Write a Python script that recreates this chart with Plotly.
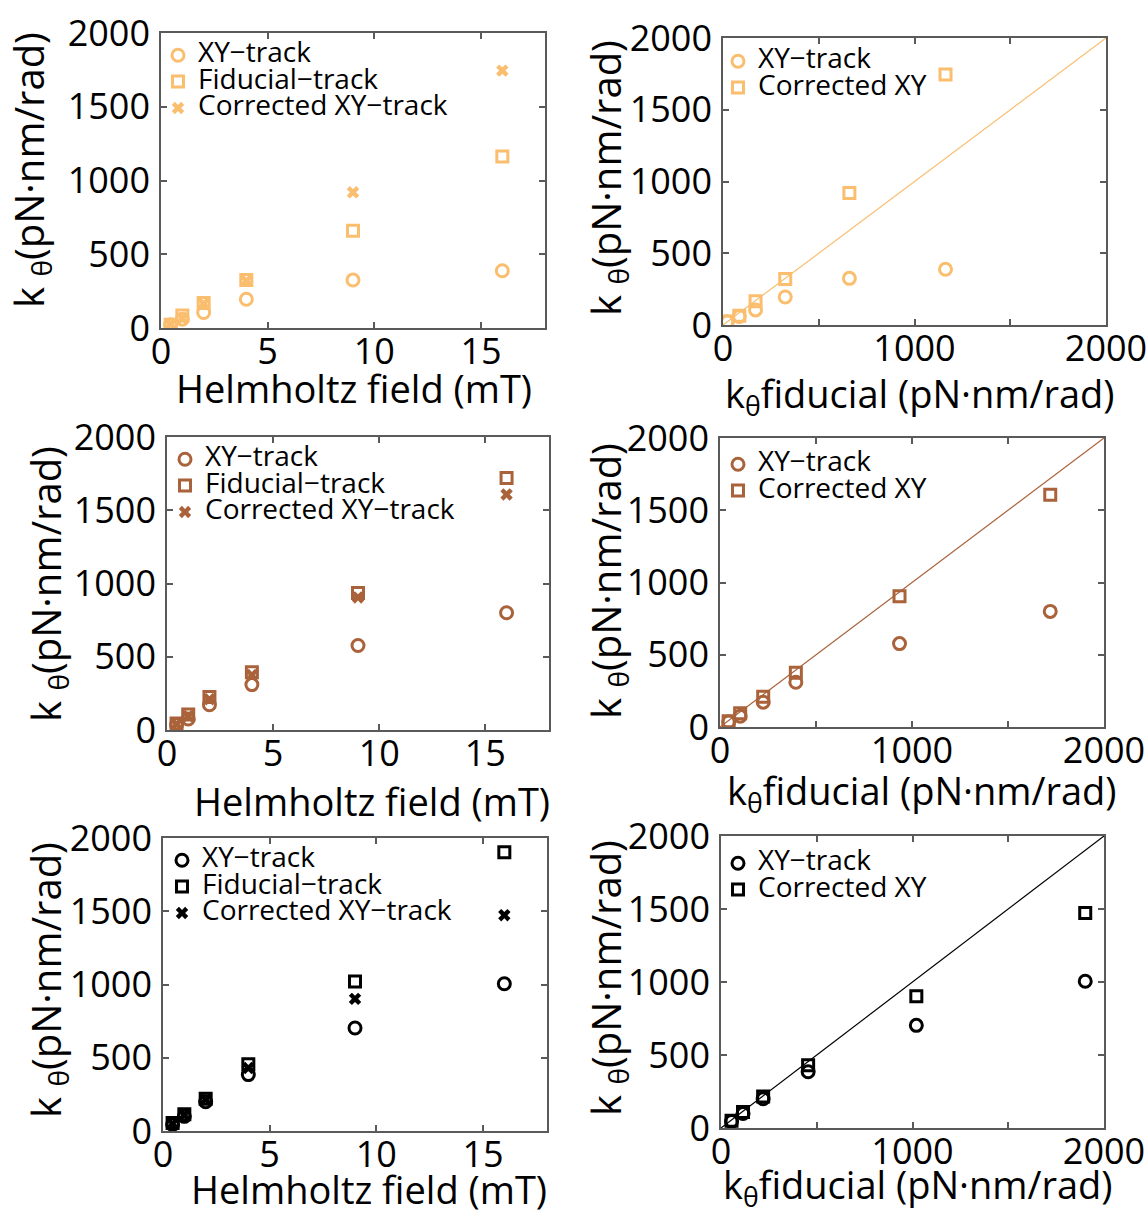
import plotly.graph_objects as go

# Helmholtz field strength (mT)
field = [0.45, 1.0, 2.0, 4.0, 9.0, 16.0]

# Bead 1 (light orange) stiffness, pN·nm/rad
b1_xy = [22, 60, 105, 195, 325, 388]
b1_fid = [22, 85, 170, 325, 660, 1162]
b1_corr = [25, 65, 165, 320, 920, 1745]

# Bead 2 (brown)
b2_xy = [35, 75, 172, 310, 577, 800]
b2_fid = [45, 105, 225, 395, 935, 1720]
b2_corr = [40, 95, 210, 375, 905, 1608]

# Bead 3 (black)
b3_xy = [45, 100, 200, 385, 703, 1005]
b3_fid = [55, 115, 220, 455, 1020, 1902]
b3_corr = [50, 110, 215, 430, 902, 1473]

unity = [0, 2000]
field_ticks = [0, 5, 10, 15]
k_ticks = [0, 500, 1000, 1500, 2000]
fid_ticks = [0, 1000, 2000]
fid_minor = [500, 1500]

colors = ["#FABE6E", "#A9623A", "#000000"]
beads = [(b1_xy, b1_fid, b1_corr), (b2_xy, b2_fid, b2_corr), (b3_xy, b3_fid, b3_corr)]

W, H = 1148, 1213
FONT = "Open Sans"
AXC = "#5a5a5a"

# panel boxes in pixels: (left, right, top, bottom)
left_boxes = [(161, 545, 33, 328), (167, 549, 437, 730), (163, 547, 838, 1131)]
right_boxes = [(723, 1106, 38, 325), (720, 1104, 438, 727), (721, 1104, 836, 1128)]
left_leg = [(158, 37), (165, 441), (162, 842)]
right_leg = [(718, 43), (718, 446), (718, 845)]
# axis title centres in pixels
left_xtitle = [(354, 388), (372, 801), (369, 1189)]
right_xtitle = [(920, 395), (922, 792), (918, 1186)]
left_ytitle = [(31, 170), (47, 584), (47, 980)]
right_ytitle = [(607, 178), (607, 581), (607, 978)]

XTITLE = "Helmholtz field (mT)"
FIDTITLE = "k<sub>\u03b8</sub>fiducial (pN\u00b7nm/rad)"
YTITLE = "k <sub>\u03b8</sub>(pN\u00b7nm/rad)"


def xdom(b):
    return [b[0] / W, b[1] / W]


def ydom(b):
    return [1 - b[3] / H, 1 - b[2] / H]


def big(s):
    # legend entries are set larger than the row pitch of the legend font
    return f'<span style="font-size:28px">{s}</span>'


def title_ann(text, pos, size, angle=0):
    return dict(text=text, x=pos[0] / W, y=1 - pos[1] / H, xref="paper", yref="paper",
                xanchor="center", yanchor="middle", showarrow=False, textangle=angle,
                font=dict(family=FONT, size=size, color="black"))


circle = dict(symbol="circle-open", size=12, line=dict(width=3))
square = dict(symbol="square-open", size=11, line=dict(width=3))
cross = dict(symbol="x", size=11, line=dict(width=0))

fig = go.Figure()
layout = {}
annotations = []

axis_common = dict(
    showline=True, linecolor=AXC, linewidth=1.5, mirror="ticks",
    ticks="inside", ticklen=6, tickwidth=1.5, tickcolor=AXC,
    showgrid=False, zeroline=False, automargin=False,
    tickfont=dict(family=FONT, size=36, color="black"),
)

for i, (xy, fid, corr) in enumerate(beads):
    c = colors[i]
    la = 2 * i + 1
    ra = 2 * i + 2
    lsuf = "" if la == 1 else str(la)
    rsuf = str(ra)
    lleg = "legend" if la == 1 else f"legend{la}"
    rleg = f"legend{ra}"

    # field dependence
    for name, vals, m in [("XY\u2212track", xy, circle),
                          ("Fiducial\u2212track", fid, square),
                          ("Corrected XY\u2212track", corr, cross)]:
        mk = dict(m, color=c)
        mk["line"] = dict(m["line"], color=c)
        fig.add_trace(go.Scatter(x=field, y=vals, mode="markers", name=big(name),
                                 marker=mk, xaxis="x" + lsuf, yaxis="y" + lsuf,
                                 legend=lleg))

    # comparison against fiducial tracking
    fig.add_trace(go.Scatter(x=unity, y=unity, mode="lines", showlegend=False,
                             line=dict(color=c, width=1.2),
                             xaxis="x" + rsuf, yaxis="y" + rsuf, hoverinfo="skip"))
    for name, vals, m in [("XY\u2212track", xy, circle),
                          ("Corrected XY", corr, square)]:
        mk = dict(m, color=c)
        mk["line"] = dict(m["line"], color=c)
        fig.add_trace(go.Scatter(x=fid, y=vals, mode="markers", name=big(name),
                                 marker=mk, xaxis="x" + rsuf, yaxis="y" + rsuf,
                                 legend=rleg))

    lb, rb = left_boxes[i], right_boxes[i]
    layout["xaxis" + lsuf] = dict(axis_common, domain=xdom(lb), range=[0, 18],
                                  tickvals=field_ticks, anchor="y" + lsuf, ticklabelstandoff=-9)
    layout["yaxis" + lsuf] = dict(axis_common, domain=ydom(lb), range=[0, 2000],
                                  tickvals=k_ticks, anchor="x" + lsuf, ticklabelstandoff=2)
    layout["xaxis" + rsuf] = dict(axis_common, domain=xdom(rb), range=[0, 2000],
                                  tickvals=fid_ticks, anchor="y" + rsuf, ticklabelstandoff=-9,
                                  minor=dict(tickvals=fid_minor, ticks="inside", ticklen=6,
                                             tickwidth=1.5, tickcolor=AXC, showgrid=False))
    layout["yaxis" + rsuf] = dict(axis_common, domain=ydom(rb), range=[0, 2000],
                                  tickvals=k_ticks, anchor="x" + rsuf, ticklabelstandoff=2)

    annotations += [
        title_ann(XTITLE, left_xtitle[i], 38),
        title_ann(FIDTITLE, right_xtitle[i], 38),
        title_ann(YTITLE, left_ytitle[i], 40, -90),
        title_ann(YTITLE, right_ytitle[i], 40, -90),
    ]

    leg_common = dict(bgcolor="rgba(0,0,0,0)", borderwidth=0, xanchor="left", yanchor="top",
                      font=dict(family=FONT, size=18, color="black"), tracegroupgap=0,
                      itemwidth=30)
    layout[lleg] = dict(leg_common, x=left_leg[i][0] / W, y=1 - left_leg[i][1] / H)
    layout[rleg] = dict(leg_common, x=right_leg[i][0] / W, y=1 - right_leg[i][1] / H)

fig.update_layout(
    width=W, height=H, margin=dict(l=0, r=0, t=0, b=0, autoexpand=False),
    paper_bgcolor="white", plot_bgcolor="white", showlegend=True,
    annotations=annotations,
    **layout,
)

fig.write_html("out.html")
